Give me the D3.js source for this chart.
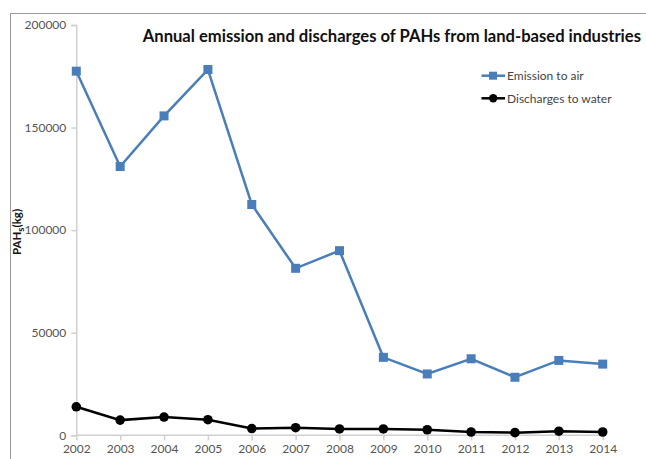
<!DOCTYPE html>
<html><head><meta charset="utf-8">
<script src="https://cdn.jsdelivr.net/npm/d3@7"></script>
<style>body{margin:0;background:#fff}svg{display:block}</style>
</head><body>
<script>
const years = ["2002","2003","2004","2005","2006","2007","2008","2009","2010","2011","2012","2013","2014"];
const emissionToAir = [177500,131000,155700,178300,112500,81400,90000,38000,29900,37300,28300,36500,34700];
const dischargesToWater = [13900,7400,8900,7600,3300,3700,3100,3100,2700,1600,1300,2000,1600];
const yTicks = [0,50000,100000,150000,200000];
const seriesNames = ["Emission to air","Discharges to water"];
const titleText = "Annual emission and discharges of PAHs from land-based industries";

const W=646,H=459;
const svg=d3.select("body").append("svg").attr("width",W).attr("height",H);
const font="Lato, 'Open Sans', sans-serif";

// frame (top and left)
svg.append("line").attr("x1",10).attr("x2",W).attr("y1",13.5).attr("y2",13.5).attr("stroke","#9a9a9a").attr("stroke-width",1);
svg.append("line").attr("x1",10.5).attr("x2",10.5).attr("y1",13).attr("y2",H).attr("stroke","#9a9a9a").attr("stroke-width",1);

const x=d3.scalePoint().domain(years).range([76.3,602.7]);
const y=d3.scaleLinear().domain([0,200000]).range([435.3,25]);

const yAxis=svg.append("g").attr("transform","translate(76.3,0)")
  .call(d3.axisLeft(y).tickValues(yTicks).tickSize(5).tickPadding(5).tickFormat(d3.format("d")));
const xAxis=svg.append("g").attr("transform","translate(0,435.3)")
  .call(d3.axisBottom(x).tickSize(5).tickPadding(4));
[yAxis,xAxis].forEach(g=>{
  g.select(".domain").attr("stroke","#d0d0d0").attr("stroke-width",1.5);
  g.selectAll(".tick line").attr("stroke","#d0d0d0").attr("stroke-width",1.5);
  g.selectAll("text").attr("fill","#555").style("font-family",font).style("font-size","12px");
});
xAxis.select(".domain").attr("d","M76.3,0H602.7");

// y-axis title
const yt=svg.append("text").attr("transform","translate(21,232) rotate(-90)")
  .attr("text-anchor","middle").style("font-family",font).style("font-size","11.5px")
  .style("font-weight","bold").attr("fill","#111");
yt.append("tspan").text("PAH");
yt.append("tspan").text("s").attr("dy",3).style("font-size","9.5px");
yt.append("tspan").text("(kg)").attr("dy",-3);

// title
svg.append("text").attr("x",641).attr("y",42).attr("text-anchor","end")
  .style("font-family",font).style("font-size","16.6px").style("font-weight","bold")
  .attr("fill","#111").text(titleText);

const line=d3.line().x((d,i)=>x(years[i])).y(d=>y(d));
const blue="#4a7ebb";
svg.append("path").datum(emissionToAir).attr("d",line).attr("fill","none").attr("stroke",blue).attr("stroke-width",2.5);
svg.selectAll(".sq").data(emissionToAir).join("rect").attr("class","sq")
  .attr("x",(d,i)=>x(years[i])-4.5).attr("y",d=>y(d)-4.5).attr("width",9).attr("height",9).attr("fill",blue);

svg.append("path").datum(dischargesToWater).attr("d",line).attr("fill","none").attr("stroke","#000").attr("stroke-width",2.5);
svg.selectAll(".ci").data(dischargesToWater).join("circle").attr("class","ci")
  .attr("cx",(d,i)=>x(years[i])).attr("cy",d=>y(d)).attr("r",4.8).attr("fill","#000");

// legend
const leg=svg.append("g");
const rows=[{n:seriesNames[0],c:blue,m:"sq",y:75.7},{n:seriesNames[1],c:"#000",m:"ci",y:98.3}];
rows.forEach(r=>{
  leg.append("line").attr("x1",481.5).attr("x2",505).attr("y1",r.y).attr("y2",r.y).attr("stroke",r.c).attr("stroke-width",2.5);
  if(r.m==="sq") leg.append("rect").attr("x",489).attr("y",r.y-4).attr("width",8).attr("height",8).attr("fill",r.c);
  else leg.append("circle").attr("cx",493.2).attr("cy",r.y).attr("r",4.2).attr("fill",r.c);
  leg.append("text").attr("x",507).attr("y",r.y).attr("dy","0.35em").style("font-family",font).style("font-size","12px")
    .attr("fill","#444").text(r.n);
});
</script>
</body></html>
